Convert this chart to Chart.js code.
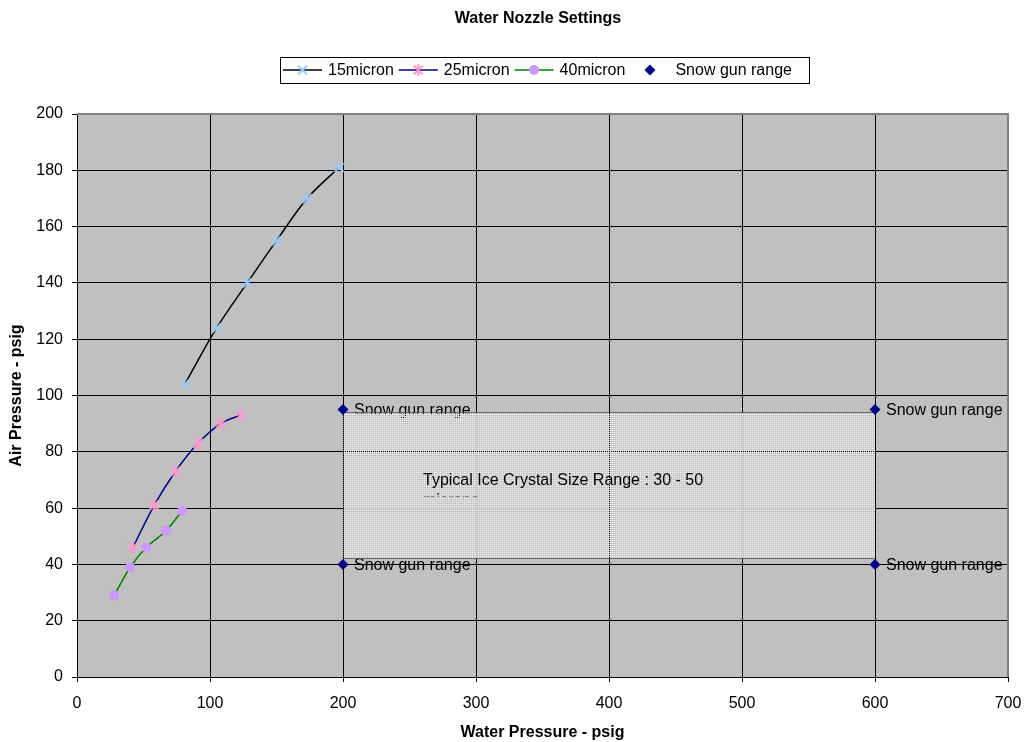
<!DOCTYPE html>
<html>
<head>
<meta charset="utf-8">
<script src="https://cdn.jsdelivr.net/npm/chart.js@4"></script>
<style>
  body { margin: 0; background: #fff; }
</style>
</head>
<body>
<canvas id="nozzleChart" width="1024" height="742"></canvas>
<script>
// water pressure (x) / air pressure (y), psig
const micron15X = [81, 105, 128, 150, 173, 197];
const micron15Y = [104, 124, 140, 155, 170, 181];
const micron25X = [42, 58, 74, 91, 108, 123];
const micron25Y = [46, 61, 73, 83, 90, 93];
const micron40X = [28, 40, 52, 67, 79];
const micron40Y = [29, 39, 46, 52, 59];
const snowGunX = [200, 600, 200, 600];
const snowGunY = [95, 95, 40, 40];
const crystalBoxX = [200, 600];
const crystalBoxY = [42, 94];
const xTickValues = [0, 100, 200, 300, 400, 500, 600, 700];
const yTickValues = [0, 20, 40, 60, 80, 100, 120, 140, 160, 180, 200];

const FONT = "'Liberation Sans', Arial, sans-serif";
const pts = (xs, ys) => xs.map((x, i) => ({ x: x, y: ys[i] }));

// small canvas markers: 'x' cross, or asterisk (x plus vertical stroke)
function marker(color, withBar) {
  const c = document.createElement('canvas');
  c.width = 12; c.height = 12;
  const g = c.getContext('2d');
  g.strokeStyle = color;
  g.lineWidth = 2;
  g.beginPath();
  g.moveTo(1.5, 1.5); g.lineTo(10.5, 10.5);
  g.moveTo(10.5, 1.5); g.lineTo(1.5, 10.5);
  if (withBar) { g.moveTo(6, 0); g.lineTo(6, 12); }
  g.stroke();
  return c;
}

// light dotted fill for the ice crystal box
function boxPattern(ctx) {
  const c = document.createElement('canvas');
  c.width = 2; c.height = 2;
  const g = c.getContext('2d');
  g.fillStyle = '#f4f4f4'; g.fillRect(0, 0, 1, 1);
  g.fillStyle = '#d4d4d4'; g.fillRect(1, 0, 1, 1); g.fillRect(0, 1, 1, 1);
  return ctx.createPattern(c, 'repeat');
}

const plotDecor = {
  id: 'plotDecor',
  beforeDraw(chart) {
    const { ctx, chartArea: a } = chart;
    ctx.save();
    ctx.fillStyle = '#c0c0c0';
    ctx.fillRect(a.left, a.top, a.right - a.left, a.bottom - a.top);
    ctx.restore();
  },
  beforeDatasetsDraw(chart) {
    const { ctx, scales: { x, y } } = chart;
    ctx.save();
    // point labels for the snow gun range corners
    ctx.font = '16px ' + FONT;
    ctx.fillStyle = '#000';
    ctx.textBaseline = 'middle';
    snowGunX.forEach((v, i) => {
      ctx.fillText('Snow gun range', x.getPixelForValue(v) + 11, y.getPixelForValue(snowGunY[i]) + 1);
    });
    // ice crystal text box
    const l = x.getPixelForValue(crystalBoxX[0]), r = x.getPixelForValue(crystalBoxX[1]);
    const t = y.getPixelForValue(crystalBoxY[1]), b = y.getPixelForValue(crystalBoxY[0]);
    ctx.fillStyle = boxPattern(ctx);
    ctx.globalAlpha = 0.92;
    ctx.fillRect(l, t, r - l, b - t);
    ctx.globalAlpha = 1;
    ctx.strokeStyle = '#000';
    ctx.lineWidth = 1;
    ctx.setLineDash([1, 1]);
    ctx.strokeRect(Math.round(l) + 0.5, Math.round(t) + 0.5, Math.round(r - l), Math.round(b - t));
    ctx.setLineDash([]);
    ctx.fillStyle = '#000';
    ctx.textBaseline = 'middle';
    ctx.fillText('Typical Ice Crystal Size Range : 30 - 50', l + 80, t + 68);
    ctx.beginPath();
    ctx.rect(l, t, r - l, 84);
    ctx.clip();
    ctx.fillText('microns', l + 80, t + 88);
    ctx.restore();
  },
  afterDatasetsDraw(chart) {
    const { ctx, chartArea: a } = chart;
    ctx.save();
    ctx.strokeStyle = '#808080';
    ctx.lineWidth = 2;
    ctx.beginPath();
    ctx.moveTo(a.left, a.top);
    ctx.lineTo(a.right, a.top);
    ctx.lineTo(a.right, a.bottom);
    ctx.stroke();
    ctx.restore();
  },
  afterDraw(chart) {
    const { ctx } = chart;
    ctx.save();
    ctx.fillStyle = '#000';
    ctx.textBaseline = 'middle';
    ctx.textAlign = 'center';
    ctx.font = 'bold 16px ' + FONT;
    ctx.fillText('Water Nozzle Settings', 538, 19);

    // boxed legend
    ctx.textAlign = 'left';
    ctx.font = '16px ' + FONT;
    const slot = 39, gap = 6, after = 5;
    const cy = 70;
    const startX = 283;
    let xPos = startX;
    chart.data.datasets.forEach((d) => {
      if (d.showLine) {
        ctx.strokeStyle = d.borderColor;
        ctx.lineWidth = d.borderWidth;
        ctx.beginPath();
        ctx.moveTo(xPos, cy);
        ctx.lineTo(xPos + slot, cy);
        ctx.stroke();
      }
      ctx.fillStyle = d.pointBackgroundColor;
      ctx.strokeStyle = d.pointBorderColor;
      ctx.lineWidth = d.pointBorderWidth;
      Chart.helpers.drawPoint(ctx, {
        pointStyle: d.pointStyle, radius: d.pointRadius, rotation: 0, borderWidth: d.pointBorderWidth
      }, xPos + slot / 2, cy);
      ctx.fillStyle = '#000';
      ctx.fillText(d.label, xPos + slot + gap, cy + 1);
      xPos += slot + gap + ctx.measureText(d.label).width + after;
    });
    ctx.strokeStyle = '#000';
    ctx.lineWidth = 1;
    ctx.strokeRect(startX - 3 + 0.5, 57.5, Math.round(xPos - after + 17 - (startX - 3)), 26);
    ctx.restore();
  }
};

const axisCommon = {
  type: 'linear',
  grid: { color: '#000', lineWidth: 1, tickLength: 5, drawTicks: true },
  border: { color: '#000', width: 1 },
  title: { display: true, color: '#000', font: { family: FONT, size: 16, weight: 'bold' } }
};

new Chart(document.getElementById('nozzleChart'), {
  type: 'scatter',
  data: {
    datasets: [{
      label: '15micron',
      data: pts(micron15X, micron15Y),
      showLine: true,
      borderColor: '#000',
      borderWidth: 1.5,
      tension: 0.35,
      pointStyle: marker('#99ccff', false),
      pointRadius: 5,
      pointBorderWidth: 1.5,
      pointBorderColor: '#99ccff',
      pointBackgroundColor: '#99ccff'
    }, {
      label: '25micron',
      data: pts(micron25X, micron25Y),
      showLine: true,
      borderColor: '#000080',
      borderWidth: 1.5,
      tension: 0.35,
      pointStyle: marker('#ff99cc', true),
      pointRadius: 5,
      pointBorderWidth: 1.5,
      pointBorderColor: '#ff99cc',
      pointBackgroundColor: '#ff99cc'
    }, {
      label: '40micron',
      data: pts(micron40X, micron40Y),
      showLine: true,
      borderColor: '#008000',
      borderWidth: 1.5,
      tension: 0.35,
      pointStyle: 'circle',
      pointRadius: 5,
      pointBorderWidth: 0,
      pointBorderColor: '#cc99ff',
      pointBackgroundColor: '#cc99ff'
    }, {
      label: 'Snow gun range',
      data: pts(snowGunX, snowGunY),
      showLine: false,
      borderColor: '#000080',
      borderWidth: 0,
      pointStyle: 'rectRot',
      pointRadius: 5.5,
      pointBorderWidth: 0,
      pointBorderColor: '#000080',
      pointBackgroundColor: '#000080'
    }]
  },
  options: {
    responsive: false,
    animation: false,
    layout: { padding: { top: 114, right: 16, left: 0, bottom: 0 } },
    plugins: {
      legend: { display: false },
      title: { display: false },
      tooltip: { enabled: false }
    },
    scales: {
      x: Object.assign({}, axisCommon, {
        min: 0, max: 700,
        afterBuildTicks: (s) => { s.ticks = xTickValues.map(v => ({ value: v })); },
        afterFit: (s) => { s.height = 65; s.paddingLeft = 0; s.paddingRight = 0; },
        ticks: { color: '#000', padding: 12, maxRotation: 0, font: { family: FONT, size: 16 } },
        title: Object.assign({}, axisCommon.title, { text: 'Water Pressure - psig', padding: { top: 0, bottom: 0 } })
      }),
      y: Object.assign({}, axisCommon, {
        min: 0, max: 200,
        afterBuildTicks: (s) => { s.ticks = yTickValues.map(v => ({ value: v })); },
        afterFit: (s) => { s.width = 77; s.paddingTop = 0; s.paddingBottom = 0; },
        ticks: { color: '#000', padding: 9, font: { family: FONT, size: 16 } },
        title: Object.assign({}, axisCommon.title, { text: 'Air Pressure - psig', padding: { top: 7, bottom: 0 } })
      })
    }
  },
  plugins: [plotDecor]
});
</script>
</body>
</html>
